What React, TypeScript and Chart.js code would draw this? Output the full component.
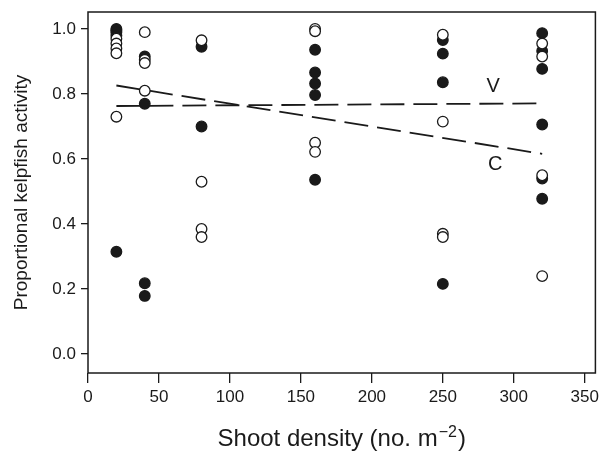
import React, { useEffect, useRef } from "react";
import { Chart, registerables } from "chart.js";

Chart.register(...registerables);

// Shoot density categories (no. m^-2)
const densities = [20, 40, 80, 160, 250, 320];

// Open circles (one list per density)
const openValues: number[][] = [
  [0.97, 0.955, 0.94, 0.925, 0.73],
  [0.99, 0.905, 0.895, 0.81],
  [0.965, 0.53, 0.385, 0.36],
  [1.0, 0.993, 0.65, 0.622],
  [0.982, 0.715, 0.37, 0.36],
  [0.955, 0.915, 0.55, 0.24],
];

// Filled circles (one list per density)
const filledValues: number[][] = [
  [1.0, 0.995, 0.99, 0.98, 0.315],
  [0.915, 0.77, 0.218, 0.179],
  [0.945, 0.7],
  [0.936, 0.866, 0.832, 0.797, 0.536],
  [0.966, 0.924, 0.836, 0.216],
  [0.987, 0.932, 0.877, 0.706, 0.54, 0.478],
];

// Fitted lines (start / end at x = 20 and 320)
const lineX = [20, 320];
const lineV = [0.763, 0.771];
const lineC = [0.826, 0.616];

const xTicksStep = 50;
const yTicksStep = 0.2;

const xTitleMain = "Shoot density (no. m";
const xTitleSup = "−2";
const xTitleEnd = ")";

const INK = "#1a1a1a";
const FONT = "'Liberation Sans', Arial, Helvetica, sans-serif";

function toPoints(groups: number[][]) {
  const pts: { x: number; y: number }[] = [];
  groups.forEach((vals, i) => vals.forEach((v) => pts.push({ x: densities[i], y: v })));
  return pts;
}

const framePlugin = {
  id: "frame",
  afterDraw(chart: any) {
    const { ctx, chartArea } = chart;
    ctx.save();
    ctx.strokeStyle = INK;
    ctx.lineWidth = 1.5;
    ctx.strokeRect(chartArea.left, chartArea.top, chartArea.right - chartArea.left, chartArea.bottom - chartArea.top);
    const xs = chart.scales.x;
    const ys = chart.scales.y;
    ctx.fillStyle = INK;
    // line labels
    ctx.font = `20px ${FONT}`;
    ctx.textAlign = "center";
    ctx.textBaseline = "middle";
    ctx.fillText("V", xs.getPixelForValue(285.5), ys.getPixelForValue(0.822));
    ctx.fillText("C", xs.getPixelForValue(287), ys.getPixelForValue(0.582));
    // x-axis title with superscript
    ctx.textAlign = "left";
    ctx.textBaseline = "alphabetic";
    const mainFont = `24px ${FONT}`;
    const supFont = `16px ${FONT}`;
    ctx.font = mainFont;
    const wMain = ctx.measureText(xTitleMain).width;
    const wEnd = ctx.measureText(xTitleEnd).width;
    ctx.font = supFont;
    const wSup = ctx.measureText(xTitleSup).width;
    const total = wMain + 1 + wSup + 1 + wEnd;
    const cx = (chartArea.left + chartArea.right) / 2;
    let x0 = cx - total / 2;
    const base = 446;
    ctx.font = mainFont;
    ctx.fillText(xTitleMain, x0, base);
    x0 += wMain + 1;
    ctx.font = supFont;
    ctx.fillText(xTitleSup, x0, base - 9);
    x0 += wSup + 1;
    ctx.font = mainFont;
    ctx.fillText(xTitleEnd, x0, base);
    ctx.restore();
  },
};

export default function App() {
  const ref = useRef<HTMLCanvasElement>(null);

  useEffect(() => {
    if (!ref.current) return;
    const chart = new Chart(ref.current, {
      type: "scatter",
      data: {
        datasets: [
          {
            label: "open",
            data: toPoints(openValues),
            pointRadius: 5.3,
            pointHoverRadius: 5.3,
            pointBorderWidth: 1.3,
            pointBackgroundColor: "#ffffff",
            pointBorderColor: INK,
            order: 1,
          },
          {
            label: "filled",
            data: toPoints(filledValues),
            pointRadius: 5.3,
            pointHoverRadius: 5.3,
            pointBorderWidth: 1.3,
            pointBackgroundColor: INK,
            pointBorderColor: INK,
            order: 2,
          },
          {
            label: "V",
            data: lineX.map((x, i) => ({ x, y: lineV[i] })),
            showLine: true,
            pointRadius: 0,
            borderColor: INK,
            borderWidth: 1.8,
            borderDash: [24, 9],
            order: 3,
          },
          {
            label: "C",
            data: lineX.map((x, i) => ({ x, y: lineC[i] })),
            showLine: true,
            pointRadius: 0,
            borderColor: INK,
            borderWidth: 1.8,
            borderDash: [24, 9],
            order: 3,
          },
        ],
      },
      options: {
        animation: false,
        responsive: true,
        maintainAspectRatio: false,
        layout: { padding: { left: 0, right: 4, top: 12, bottom: 0 } },
        plugins: { legend: { display: false }, tooltip: { enabled: false } },
        scales: {
          x: {
            type: "linear",
            min: 0,
            max: 357.5,
            afterFit: (s: any) => {
              s.height = 82;
              s.paddingLeft = 0;
              s.paddingRight = 0;
            },
            ticks: {
              stepSize: xTicksStep,
              includeBounds: false,
              color: INK,
              font: { family: FONT, size: 17 },
              padding: 4,
              maxRotation: 0,
            },
            grid: { drawOnChartArea: false, drawTicks: true, tickLength: 10, color: INK, lineWidth: 1.3 },
            border: { display: false },
            title: { display: false },
          },
          y: {
            type: "linear",
            min: -0.058,
            max: 1.052,
            afterFit: (s: any) => {
              s.width = 88;
              s.paddingTop = 0;
              s.paddingBottom = 0;
            },
            ticks: {
              stepSize: yTicksStep,
              includeBounds: false,
              color: INK,
              font: { family: FONT, size: 17 },
              padding: 5,
              callback: (v: any) => Number(v).toFixed(1),
            },
            grid: { drawOnChartArea: false, drawTicks: true, tickLength: 7, color: INK, lineWidth: 1.3 },
            border: { display: false },
            title: {
              display: true,
              text: "Proportional kelpfish activity",
              color: INK,
              font: { family: FONT, size: 19 },
              padding: { top: 10, bottom: 0 },
            },
          },
        },
      },
      plugins: [framePlugin],
    });
    return () => chart.destroy();
  }, []);

  return (
    <div style={{ position: "absolute", left: 0, top: 0, width: 602, height: 455, background: "#fff" }}>
      <canvas ref={ref} />
    </div>
  );
}
